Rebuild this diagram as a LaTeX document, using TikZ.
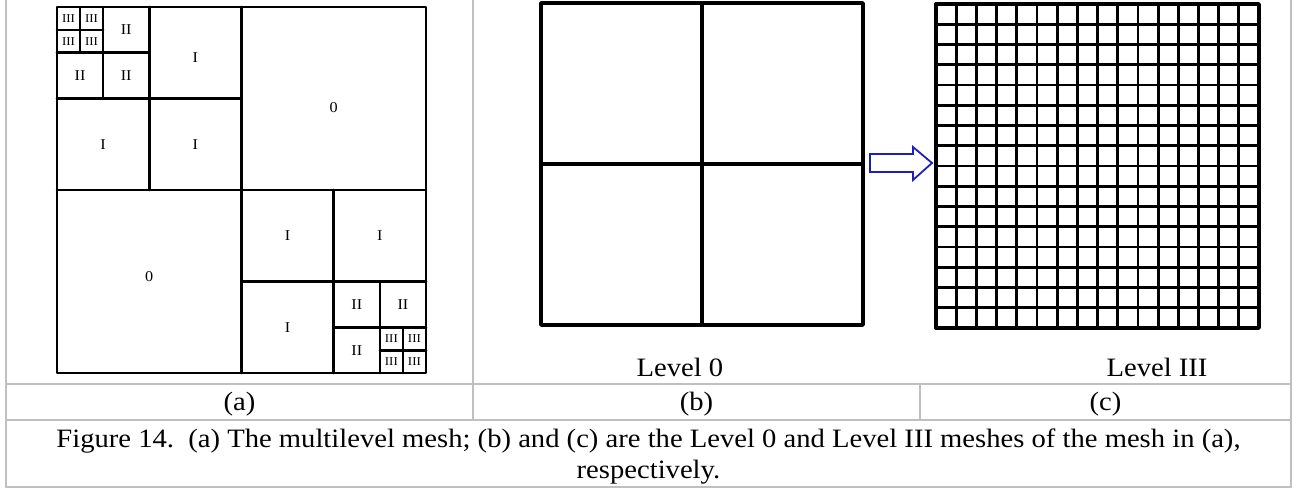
\documentclass[tikz,border=0pt]{standalone}
\usepackage{fontspec}
\setmainfont{Liberation Serif}[FakeStretch=1.08]

\definecolor{tablegray}{RGB}{192,192,192}
\definecolor{arrowblue}{RGB}{30,30,190}

\tikzset{
    rule/.style={draw=tablegray, line width=2pt},
    meshline/.style={line width=2.6pt, line cap=round, line join=round},
    lab/.style={font=\fontsize{15}{15}\selectfont, inner sep=0pt},
    labsmall/.style={font=\fontsize{12}{12}\selectfont, inner sep=0pt},
    celltext/.style={font=\fontsize{26.5}{31}\selectfont, inner sep=0pt, anchor=base},
}

\begin{document}
\begin{tikzpicture}[x=1pt, y=-1pt]
        \useasboundingbox (0,0) rectangle (1301,488);

        \draw[rule] (6,0) -- (6,487) -- (1291,487) -- (1291,0);
        \draw[rule] (6,384) -- (1291,384);
        \draw[rule] (6,420) -- (1291,420);
        \draw[rule] (473,0) -- (473,420);
        \draw[rule] (920,384) -- (920,420);

        \begin{scope}[shift={(57,7)}, x=23.06pt, y=-22.88pt]
            \draw[meshline] (0,0) rectangle (16,16);
            \draw[meshline] (8,0) -- (8,16);
            \draw[meshline] (0,8) -- (16,8);
            \draw[meshline] (4,0) -- (4,8);
            \draw[meshline] (0,4) -- (8,4);
            \draw[meshline] (2,0) -- (2,4);
            \draw[meshline] (0,2) -- (4,2);
            \draw[meshline] (1,0) -- (1,2);
            \draw[meshline] (0,1) -- (2,1);
            \draw[meshline] (12,8) -- (12,16);
            \draw[meshline] (8,12) -- (16,12);
            \draw[meshline] (14,12) -- (14,16);
            \draw[meshline] (12,14) -- (16,14);
            \draw[meshline] (15,14) -- (15,16);
            \draw[meshline] (14,15) -- (16,15);

            \node[lab] (z1) at (12,4.4) {0};
            \node[lab] (z2) at (4,11.8) {0};
            \node[lab] (i1) at (6,2.2) {I};
            \node[lab] (i2) at (2,6) {I};
            \node[lab] (i3) at (6,6) {I};
            \node[lab] (i4) at (10,10) {I};
            \node[lab] (i5) at (14,10) {I};
            \node[lab] (i6) at (10,14) {I};
            \node[lab] (ii1) at (3,1) {II};
            \node[lab] (ii2) at (1,3) {II};
            \node[lab] (ii3) at (3,3) {II};
            \node[lab] (ii4) at (13,13) {II};
            \node[lab] (ii5) at (15,13) {II};
            \node[lab] (ii6) at (13,15) {II};
            \foreach \x/\y [count=\k] in {0.5/0.5, 1.5/0.5, 0.5/1.5, 1.5/1.5,
                14.5/14.5, 15.5/14.5, 14.5/15.5, 15.5/15.5}
                \node[labsmall] (iii\k) at (\x,\y) {III};
        \end{scope}

        \draw[line width=3.4pt, line cap=round, line join=round] (541,3) rectangle (863,325);
        \draw[line width=3.4pt] (702,3) -- (702,325);
        \draw[line width=3.4pt] (541,164) -- (863,164);

        \draw[arrowblue, line width=1.8pt, fill=white] (870,154) -- (913,154) -- (913,147)
            -- (932,163) -- (913,180) -- (913,172) -- (870,172) -- cycle;

        \begin{scope}[shift={(936,328)}, x=20.19pt, y=20.25pt]
            \draw[line width=2.8pt, step=1] (0,0) grid (16,16);
            \draw[line width=3.4pt, line join=round] (0,0) rectangle (16,16);
        \end{scope}

        \node[celltext] (lvl0) at (680,376) {Level 0};
        \node[celltext] (lvl3) at (1157,376) {Level III};

        \node[celltext] (capa) at (239.5,410) {(a)};
        \node[celltext] (capb) at (696.5,410) {(b)};
        \node[celltext] (capc) at (1105.5,410) {(c)};

        \node[celltext, align=center] (fig) at (648.5,478) {Figure 14.\ \ (a) The multilevel mesh; (b) and (c) are the Level 0 and Level III meshes of the mesh in (a),\\respectively.};
    \end{tikzpicture}
\end{document}
